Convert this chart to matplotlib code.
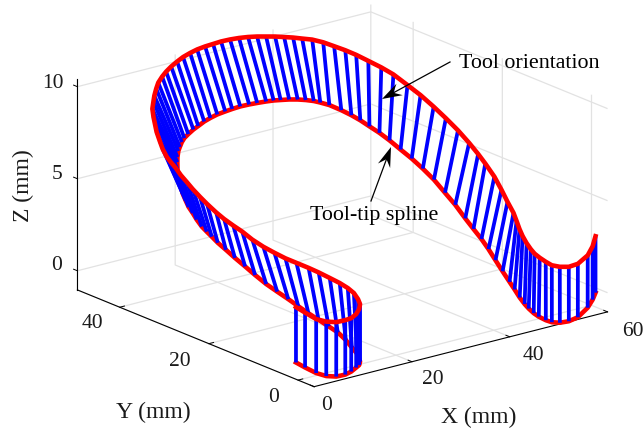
#!/usr/bin/env python3

import numpy as np
import matplotlib
matplotlib.use("Agg")
import matplotlib.pyplot as plt

plt.rcParams["font.family"] = ["Liberation Serif", "DejaVu Serif"]

# Tool-tip spline, one point per tool orientation line (mm)
tip_x = [-0.73, -1.13, -1.44, -1.10, 0.00, 1.75, 3.42, 5.28, 6.43, 7.63, 8.42, 9.71, 10.92, 12.47,
         10.97, 11.68, 12.42, 13.16, 14.05, 12.14, 13.06, 11.18, 12.56, 11.11, 12.46, 10.98, 12.13,
         10.41, 11.32, 9.42, 10.94, 9.63, 10.97, 9.78, 11.57, 10.96, 13.16, 12.69, 14.84, 13.58, 15.54,
         16.96, 15.92, 17.47, 19.20, 18.42, 20.12, 22.25, 21.29, 23.25, 25.17, 26.82, 28.60, 30.34,
         31.81, 33.40, 34.65, 35.68, 36.91, 37.98, 38.82, 39.53, 39.88, 40.25, 43.01, 42.73, 45.12,
         44.41, 46.50, 45.45, 46.86, 45.48, 46.61, 44.61, 44.80, 42.38, 42.29, 40.07, 40.81, 41.42,
         41.72, 42.03, 42.49, 43.62, 41.79, 43.23, 42.35, 44.40, 43.96, 43.76, 43.90, 44.75, 46.34,
         48.70, 52.88, 55.97, 58.50]
tip_y = [-0.33, -2.81, -5.64, -7.53, -8.56, -8.67, -8.17, -7.24, -6.65, -5.54, -4.44, -2.56, -0.08, 2.99,
         3.13, 5.95, 9.03, 12.11, 15.36, 15.50, 19.01, 19.41, 23.42, 24.07, 27.84, 28.23, 31.31,
         30.77, 32.90, 31.93, 34.74, 34.20, 36.58, 35.95, 38.59, 38.38, 41.27, 40.97, 43.35, 41.95, 43.91,
         45.14, 43.54, 44.68, 45.69, 43.69, 44.46, 45.46, 43.03, 43.62, 43.94, 44.18, 44.34, 44.25,
         44.06, 43.79, 43.48, 43.04, 42.48, 41.74, 40.87, 39.84, 38.76, 37.13, 37.48, 34.91, 35.53,
         32.71, 32.75, 29.34, 28.41, 24.40, 23.15, 18.46, 16.19, 11.23, 8.89, 4.61, 3.63, 2.72,
         1.48, 0.23, -0.83, -0.72, -3.87, -3.40, -5.28, -4.15, -5.77, -7.57, -8.77, -9.63, -9.90,
         -9.33, -6.95, -4.67, -2.55]
tip_z = [0, 0, 0, 0, 0, 0, 0, 0, 0, 0, 0, 0, 0, 0,
         0.5, 0.5, 0.5, 0.5, 0.5, 1, 1, 1.5, 1.5, 2, 2, 2.5, 2.5,
         3, 3, 3.5, 3.5, 4, 4, 4.5, 4.5, 5, 5, 5.5, 5.5, 6, 6,
         6, 6.5, 6.5, 6.5, 7, 7, 7, 7.5, 7.5, 7.5, 7.5, 7.5, 7.5,
         7.5, 7.5, 7.5, 7.5, 7.5, 7.5, 7.5, 7.5, 7.5, 7.5, 7, 7, 6.5,
         6.5, 6, 6, 5.5, 5.5, 5, 5, 4.5, 4.5, 4, 4, 3.5, 3,
         2.5, 2, 1.5, 1, 1, 0.5, 0.5, 0, 0, 0, 0, 0, 0,
         0, 0, 0, 0]

# Other end of each tool orientation line (mm), 3 mm above the tip
top_x = [-0.67, -1.23, -1.84, -1.35, -0.25, 1.50, 2.87, 4.72, 6.64, 8.30, 9.59, 10.93, 11.71, 12.24,
         9.71, 10.02, 10.15, 10.17, 10.18, 7.67, 8.13, 6.10, 7.30, 5.20, 6.07, 4.26, 5.73,
         4.19, 5.62, 4.21, 5.61, 4.33, 5.54, 3.78, 5.72, 5.00, 7.39, 8.80, 11.14, 10.62, 12.59,
         14.99, 14.26, 16.60, 18.65, 18.01, 20.31, 22.44, 21.75, 23.71, 25.64, 27.41, 29.19, 30.93,
         32.52, 33.96, 35.25, 36.38, 37.51, 38.49, 39.46, 40.29, 41.24, 41.79, 44.80, 44.96, 47.75,
         47.42, 49.88, 49.24, 50.57, 49.12, 50.04, 48.02, 48.65, 46.19, 46.74, 44.70, 44.64, 44.34,
         44.21, 44.39, 45.13, 45.84, 44.07, 45.23, 43.90, 45.82, 45.22, 44.74, 44.42, 44.96, 46.09,
         48.15, 52.02, 55.41, 58.87]
top_y = [-0.26, -2.92, -6.08, -7.80, -8.84, -8.94, -8.78, -7.85, -6.41, -4.80, -2.92, -0.53, 1.69, 4.08,
         3.55, 6.37, 8.77, 11.52, 14.00, 13.72, 16.71, 16.95, 20.53, 20.24, 23.25, 23.04, 26.71,
         26.60, 29.76, 29.55, 32.45, 32.16, 34.64, 33.58, 36.65, 36.52, 39.84, 42.09, 44.90, 44.10, 46.05,
         48.26, 47.00, 48.70, 50.05, 48.22, 49.40, 50.41, 48.07, 48.65, 48.98, 49.13, 49.29, 49.19,
         48.92, 48.48, 47.86, 47.08, 46.30, 45.35, 44.40, 43.28, 42.07, 40.20, 41.05, 38.73, 39.34,
         36.26, 36.05, 32.63, 30.93, 26.41, 24.48, 19.52, 17.50, 12.30, 10.88, 7.04, 4.94, 3.02,
         1.52, 0.37, 0.50, 0.62, -2.02, -1.64, -4.04, -2.80, -4.60, -6.48, -8.19, -9.39, -10.17,
         -9.94, -7.91, -5.29, -2.14]

x_ticks = [0, 20, 40, 60]
y_ticks = [0, 20, 40]
z_ticks = [0, 5, 10]
x_lim = (0, 60)
y_lim = (-3.6, 49.5)
z_lim = (-1.04, 10.4)

# tick label text and where it sits in the image
x_labels = ["0", "20", "40", "60"]
x_label_pos = [(327, 406), (433, 380), (533, 356), (633, 331)]
y_labels = ["0", "20", "40"]
y_label_pos = [(274, 397), (180, 361), (92, 323)]
z_labels = ["0", "5", "10"]
z_label_pos = [(57, 266), (57, 174), (53, 83)]


def stealth(ov, tail, tip, length=20, width=13):
    # MATLAB style arrow: thin shaft and a head with a notched back
    tail, tip = np.array(tail, float), np.array(tip, float)
    d = (tip - tail) / np.hypot(*(tip - tail))
    n = np.array([-d[1], d[0]])
    wing1 = tip - d * length + n * width / 2
    wing2 = tip - d * length - n * width / 2
    notch = tip - d * length * 0.65
    ov.plot([tail[0], notch[0]], [tail[1], notch[1]], color="k", lw=0.9)
    ov.fill(*zip(tip, wing1, notch, wing2), color="k", lw=0)


fig = plt.figure(figsize=(6.44, 4.28), dpi=100)
ax = fig.add_axes([0.1905, 0.0295, 0.6646, 1.0], projection="3d", computed_zorder=False)
ax.set_proj_type("ortho")
ax.view_init(elev=18.83, azim=-128.3)
ax.set_box_aspect((371, 379, 220.8), zoom=1.3132)
ax.patch.set_alpha(0)

tip_z = np.array(tip_z, float)
top_z = tip_z + 3

ax.plot(tip_x, tip_y, tip_z, color="#ff0000", lw=3.3, zorder=3, clip_on=False)
for i in range(len(tip_x)):
    ax.plot([tip_x[i], top_x[i]], [tip_y[i], top_y[i]], [tip_z[i], top_z[i]],
            color="#0000ff", lw=2.7, zorder=4, solid_capstyle="butt", clip_on=False)
ax.plot(top_x, top_y, top_z, color="#ff0000", lw=3.3, zorder=5, clip_on=False)

ax.set_xlim(x_lim, view_margin=0)
ax.set_ylim(y_lim, view_margin=0)
ax.set_zlim(z_lim, view_margin=0)
ax.set_xticks(x_ticks)
ax.set_yticks(y_ticks)
ax.set_zticks(z_ticks)
ax.set_xticklabels([])
ax.set_yticklabels([])
ax.set_zticklabels([])
# z ticks point along y as in the reference, axis line stays on the left
ax.zaxis._get_tickdir = lambda pos: 1

for axis in (ax.xaxis, ax.yaxis, ax.zaxis):
    axis.pane.set_visible(False)
    axis.line.set_color("k")
    axis.line.set_linewidth(0.8)
    axis._axinfo["grid"].update(color="#e2e2e2", linewidth=0.9)
    axis._axinfo["tick"].update(inward_factor=0.0, outward_factor=0.2)
    axis._axinfo["tick"]["linewidth"] = {True: 0.7, False: 0.5}

# overlay in image pixels for the labels and arrows
ov = fig.add_axes([0, 0, 1, 1])
ov.set_xlim(0, 644)
ov.set_ylim(428, 0)
ov.axis("off")

for labels, pos in ((x_labels, x_label_pos), (y_labels, y_label_pos), (z_labels, z_label_pos)):
    for s, (u, v) in zip(labels, pos):
        ov.text(u, v, s, fontsize=15.5, ha="center", va="center", color="#1a1a1a")

ov.text(479, 417, "X (mm)", fontsize=17, ha="center", va="center", color="#1a1a1a")
ov.text(153, 412, "Y (mm)", fontsize=17, ha="center", va="center", color="#1a1a1a")
ov.text(23, 186, "Z (mm)", fontsize=17, ha="center", va="center", rotation=90, color="#1a1a1a")
ov.text(459, 63, "Tool orientation", fontsize=15.8, ha="left", va="center")
ov.text(310, 215, "Tool-tip spline", fontsize=15.8, ha="left", va="center")
stealth(ov, (450, 62), (382, 99))
stealth(ov, (371, 201), (391, 147))

fig.savefig("out.png", dpi=100)
